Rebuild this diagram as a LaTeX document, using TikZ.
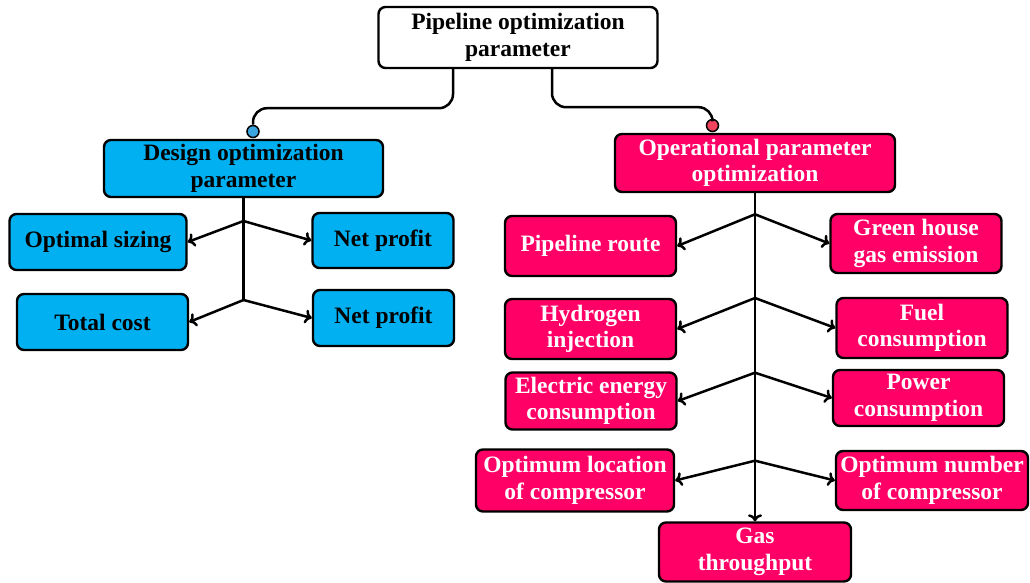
\documentclass[tikz,border=0pt]{standalone}
\usepackage{fontspec}
\setmainfont{Liberation Serif}
\usetikzlibrary{arrows.meta}
\definecolor{cblue}{HTML}{00B0F0}
\definecolor{cred}{HTML}{FF0066}
\definecolor{dblue}{HTML}{3AA5DE}
\definecolor{dred}{HTML}{F2435F}
\tikzset{
  box/.style={draw=black, line width=2.4pt, rounded corners=7pt, align=center,
    inner sep=0pt, font=\bfseries\fontsize{23.5}{26.5}\selectfont},
  bluebox/.style={box, fill=cblue, text=black},
  redbox/.style={box, fill=cred, text=white},
  topbox/.style={box, fill=white, text=black},
  conn/.style={draw=black, line width=2.5pt},
  arr/.style={conn, -{To[length=7pt,width=14pt,line width=2.5pt]}},
  dotb/.style={circle, draw=black, line width=1.5pt, fill=dblue, minimum size=12pt, inner sep=0pt},
  dotr/.style={circle, draw=black, line width=1.5pt, fill=dred, minimum size=12pt, inner sep=0pt},
}
\begin{document}
\begin{tikzpicture}[x=1pt, y=-1pt]
\useasboundingbox (0,0) rectangle (1030,583);
% main
\node[topbox, minimum width=279pt, minimum height=61pt] (top) at (518,37.5) {Pipeline optimization\\parameter};
\node[bluebox, minimum width=279pt, minimum height=57pt] (des) at (243.5,168.5) {Design optimization\\parameter};
\node[redbox, minimum width=280pt, minimum height=58pt] (ope) at (755,163) {Operational parameter\\optimization};
% dots
\node[dotb] (dl) at (253,131.5) {};
\node[dotr] (dr) at (712.5,125.5) {};
% blue children
\node[bluebox, minimum width=177pt, minimum height=56pt] (opt) at (98,242) {Optimal sizing};
\node[bluebox, minimum width=141pt, minimum height=55pt] (np1) at (383,240.5) {Net profit};
\node[bluebox, minimum width=171pt, minimum height=56pt] (tot) at (102.5,322) {Total cost};
\node[bluebox, minimum width=141pt, minimum height=56pt] (np2) at (383.5,318) {Net profit};
% red children
\node[redbox, minimum width=171pt, minimum height=60pt] (rou) at (590.5,246) {Pipeline route};
\node[redbox, minimum width=171pt, minimum height=59pt] (gre) at (916,243.5) {Green house\\gas emission};
\node[redbox, minimum width=171pt, minimum height=60pt] (hyd) at (590.5,329) {Hydrogen\\injection};
\node[redbox, minimum width=171pt, minimum height=60pt] (fue) at (922,328) {Fuel\\consumption};
\node[redbox, minimum width=171pt, minimum height=57pt] (ele) at (591,401) {Electric energy\\consumption};
\node[redbox, minimum width=171pt, minimum height=56pt] (pow) at (918.5,398) {Power\\consumption};
\node[redbox, minimum width=198pt, minimum height=62pt] (loc) at (575,480.5) {Optimum location\\of compressor};
\node[redbox, minimum width=192pt, minimum height=59pt] (num) at (932,480.5) {Optimum number\\of compressor};
\node[redbox, minimum width=192pt, minimum height=59pt] (gas) at (755,552) {Gas\\throughput};
% top connectors
\draw[conn, rounded corners=14pt] ([xshift=-65pt]top.south) -- ++(0,39) -| (dl.north);
\draw[conn, rounded corners=14pt] ([xshift=34pt]top.south) -- ++(0,38) -| (dr.north);
% design branch
\coordinate (b1) at (243.5,221);
\coordinate (b2) at (243.5,300);
\draw[conn] (des.south) -- (b2);
\draw[arr] (b1) -- (opt.east);
\draw[arr] (b1) -- (np1.west);
\draw[arr] (b2) -- (tot.east);
\draw[arr] (b2) -- (np2.west);
% operational branch
\coordinate (r1) at (755,214.3);
\coordinate (r2) at (755,298);
\coordinate (r3) at (755,372.7);
\coordinate (r4) at (755,460.7);
\draw[arr] (ope.south) -- (gas.north);
\draw[arr] (r1) -- (rou.east);
\draw[arr] (r1) -- (gre.west);
\draw[arr] (r2) -- (hyd.east);
\draw[arr] (r2) -- (fue.west);
\draw[arr] (r3) -- (ele.east);
\draw[arr] (r3) -- (pow.west);
\draw[arr] (r4) -- (loc.east);
\draw[arr] (r4) -- (num.west);
\end{tikzpicture}
\end{document}
